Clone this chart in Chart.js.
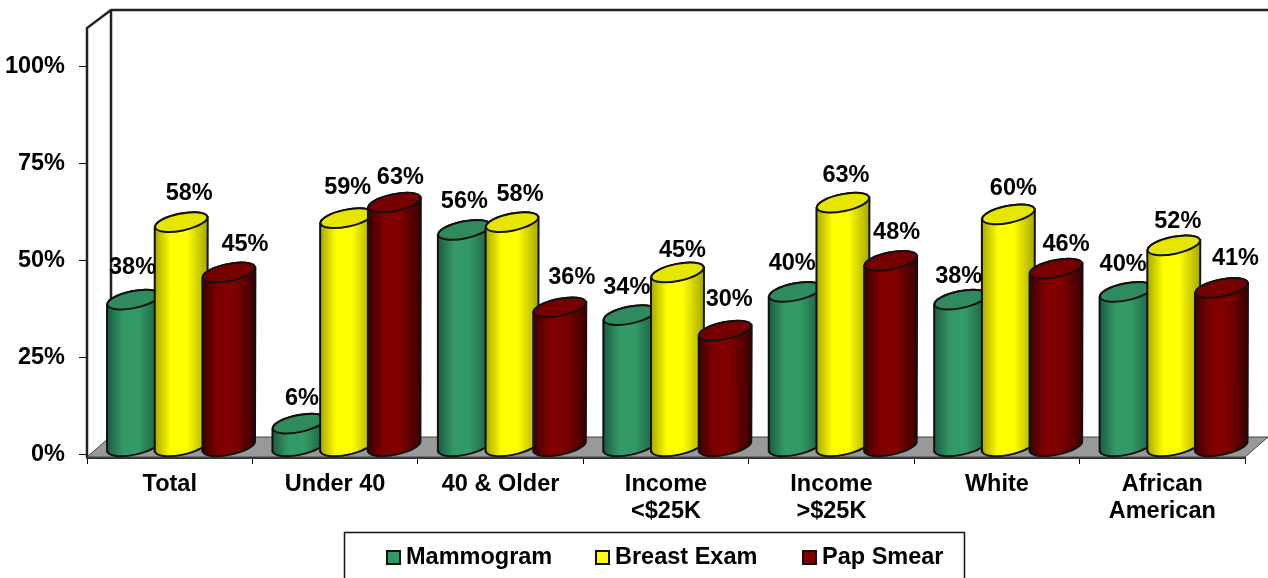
<!DOCTYPE html>
<html><head><meta charset="utf-8">
<style>html,body{margin:0;padding:0;background:#fff;overflow:hidden}canvas{display:block}</style>
<script src="https://cdn.jsdelivr.net/npm/chart.js@4"></script></head>
<body><div style="width:1268px;height:578px"><canvas id="c" width="1268" height="578"></canvas></div>
<script>
const categories=[['Total'],['Under 40'],['40 & Older'],['Income','<$25K'],['Income','>$25K'],['White'],['African','American']];
const mammogram=[38,6,56,34,40,38,40];
const breastExam=[58,59,58,45,63,60,52];
const papSmear=[45,63,36,30,48,46,41];
const yTicks=[0,25,50,75,100];

const FONT='bold 23.5px "Liberation Sans", Arial, sans-serif';
const DEPTH_X=23, DEPTH_Y=20;
const palette={
  Mammogram:{edge:'#1a5c43',mid:'#339966',cap:'#2f8a5e'},
  'Breast Exam':{edge:'#a8a800',mid:'#ffff00',cap:'#e6e600'},
  'Pap Smear':{edge:'#3a0000',mid:'#800000',cap:'#760000'}
};
// label nudges relative to each bar top (hand placed in the original slide)
const nudge=[
 [[-1,-34],[8,-30],[16,-29]],
 [[3,-27],[1,-32],[6,-27]],
 [[0,-30],[8,-29],[12,-31]],
 [[-3,-29],[5,-23],[4,-33]],
 [[-3,-30],[3,-29],[6,-30]],
 [[-2,-25],[5,-27],[10,-26]],
 [[-3,-29],[4,-25],[14,-31]]
];

function cylinder(ctx,el,col){
  const cx=el.x+DEPTH_X/2, hw=el.width/2*1.11, hh=8.5, tilt=-0.2;
  const topY=el.y-7.5, baseY=el.base-7.5;
  const dy=Math.sin(tilt)*hw;
  const lg=ctx.createLinearGradient(cx-hw,0,cx+hw,0);
  lg.addColorStop(0,col.edge);lg.addColorStop(.3,col.mid);lg.addColorStop(.6,col.mid);lg.addColorStop(1,col.edge);
  const rx=hw/Math.cos(tilt)*0.985;
  ctx.save();
  ctx.lineWidth=2;ctx.strokeStyle='#111';ctx.fillStyle=lg;
  ctx.beginPath();
  ctx.moveTo(cx-hw,topY-dy);
  ctx.lineTo(cx-hw,baseY-dy);
  ctx.ellipse(cx,baseY,rx,hh,tilt,Math.PI,0,true);
  ctx.lineTo(cx+hw,topY+dy);
  ctx.ellipse(cx,topY,rx,hh,tilt,0,Math.PI,true);
  ctx.closePath();ctx.fill();ctx.stroke();
  ctx.beginPath();ctx.ellipse(cx,topY,rx,hh,tilt,0,Math.PI*2);
  ctx.fillStyle=col.cap;ctx.fill();ctx.stroke();
  ctx.restore();
}

const cylinders={
  id:'cylinders',
  beforeDatasetDraw(){return false;},
  beforeDatasetsDraw(chart){
    const {ctx,chartArea:a}=chart;
    ctx.save();
    // floor
    ctx.fillStyle='#999999';ctx.strokeStyle='#444';ctx.lineWidth=1;
    ctx.beginPath();ctx.moveTo(a.left,a.bottom);ctx.lineTo(a.left+DEPTH_X,a.bottom-DEPTH_Y);
    ctx.lineTo(a.right+DEPTH_X,a.bottom-DEPTH_Y);ctx.lineTo(a.right,a.bottom);ctx.closePath();ctx.fill();
    ctx.stroke();
    // walls
    ctx.strokeStyle='#222';ctx.lineWidth=2.5;
    ctx.beginPath();
    ctx.moveTo(a.left,a.bottom);ctx.lineTo(a.left,a.top);ctx.lineTo(a.left+DEPTH_X+1,a.top-18);
    ctx.lineTo(a.right+DEPTH_X,a.top-18);
    ctx.moveTo(a.left+DEPTH_X+1,a.top-18);ctx.lineTo(a.left+DEPTH_X+1,a.bottom-DEPTH_Y);
    ctx.stroke();
    ctx.restore();
    chart.data.datasets.forEach((d,i)=>{
      chart.getDatasetMeta(i).data.forEach(el=>cylinder(ctx,el,palette[d.label]));
    });
    ctx.save();
    ctx.font=FONT;ctx.fillStyle='#000';ctx.textAlign='center';ctx.textBaseline='middle';
    chart.data.datasets.forEach((d,i)=>{
      chart.getDatasetMeta(i).data.forEach((el,j)=>{
        const n=nudge[j][i];
        ctx.fillText(d.data[j]+'%',el.x+DEPTH_X/2+n[0],el.y-6+n[1]);
      });
    });
    ctx.restore();
  },
  afterDraw(chart){
    const {ctx}=chart;
    ctx.save();
    // legend frame, cut by the bottom of the picture
    ctx.strokeStyle='#111';ctx.lineWidth=1.5;
    ctx.beginPath();ctx.moveTo(344.5,578);ctx.lineTo(344.5,532.5);ctx.lineTo(964.5,532.5);ctx.lineTo(964.5,578);ctx.stroke();
    ctx.font=FONT;ctx.textBaseline='middle';ctx.textAlign='left';
    const xs=[387,596,803];
    chart.data.datasets.forEach((d,i)=>{
      ctx.fillStyle=palette[d.label].mid;ctx.strokeStyle='#111';ctx.lineWidth=2;
      ctx.fillRect(xs[i],551,13,13);ctx.strokeRect(xs[i],551,13,13);
      ctx.fillStyle='#000';ctx.fillText(d.label,xs[i]+19,558);
    });
    ctx.restore();
  }
};

new Chart(document.getElementById('c'),{
  type:'bar',
  data:{labels:categories,datasets:[
    {label:'Mammogram',data:mammogram,backgroundColor:palette.Mammogram.mid},
    {label:'Breast Exam',data:breastExam,backgroundColor:palette['Breast Exam'].mid},
    {label:'Pap Smear',data:papSmear,backgroundColor:palette['Pap Smear'].mid}
  ]},
  plugins:[cylinders],
  options:{
    responsive:false,animation:false,devicePixelRatio:1,
    categoryPercentage:0.865,barPercentage:1,
    layout:{padding:{right:23,left:0,top:0,bottom:0}},
    plugins:{legend:{display:false},title:{display:false},tooltip:{enabled:false}},
    scales:{
      x:{
        grid:{drawOnChartArea:false,drawTicks:true,tickLength:7,tickColor:'#111',offset:true},
        border:{color:'#333',width:3},
        ticks:{color:'#000',font:{family:'"Liberation Sans", Arial, sans-serif',weight:'bold',size:23.5,lineHeight:1.14},padding:7,maxRotation:0,autoSkip:false},
        afterFit(s){s.height=578-457;}
      },
      y:{
        min:-0.7,max:110,
        afterBuildTicks(s){s.ticks=yTicks.map(v=>({value:v}));},
        grid:{drawOnChartArea:false,tickLength:8,tickColor:'#111'},
        border:{display:false},
        ticks:{color:'#000',font:{family:'"Liberation Sans", Arial, sans-serif',weight:'bold',size:23.5},padding:14,callback:v=>v+'%'},
        afterFit(s){s.width=87;}
      }
    }
  }
});
</script></body></html>
